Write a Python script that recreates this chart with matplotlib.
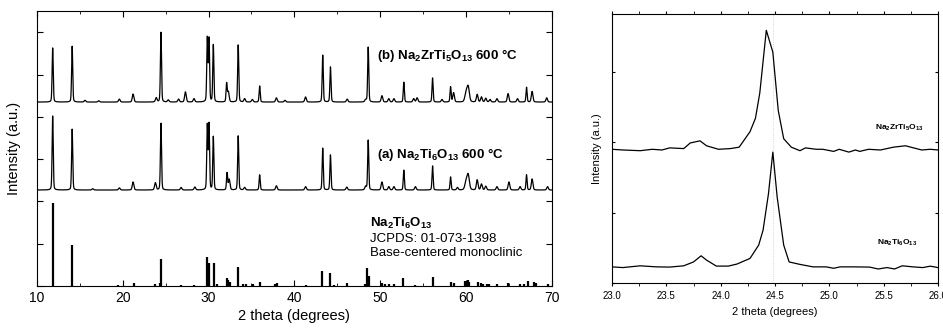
import numpy as np
import matplotlib
matplotlib.use("Agg")
import matplotlib.pyplot as plt
from matplotlib.ticker import MultipleLocator

plt.rcParams['font.family'] = ['Liberation Sans', 'DejaVu Sans']
plt.rcParams['mathtext.fontset'] = 'custom'
plt.rcParams['mathtext.rm'] = 'Liberation Sans'
plt.rcParams['mathtext.bf'] = 'Liberation Sans:bold'

# --- panel izquierdo: picos leidos (2theta, altura sobre la linea base) ---
base_b = 4.35
pos_b = [11.83, 14.1, 15.6, 17.2, 19.6, 21.2, 23.9, 24.45, 25.3, 26.5, 27.3, 28.3, 29.85, 30.05,
         30.55, 32.1, 32.3, 33.45, 34.2, 35.1, 35.95, 37.9, 38.9, 41.3, 43.3, 44.2, 46.15, 48.3,
         48.6, 50.2, 51.0, 51.6, 52.75, 53.9, 54.3, 56.1, 57.2, 58.2, 58.55, 60.0, 60.25, 61.3,
         61.8, 62.3, 62.8, 63.6, 64.9, 66.0, 67.05, 67.7, 69.4]
alt_b = [1.28, 1.32, 0.04, 0.03, 0.07, 0.19, 0.1, 1.65, 0.05, 0.07, 0.24, 0.08, 1.5, 1.48,
         1.35, 0.43, 0.24, 1.35, 0.08, 0.06, 0.38, 0.1, 0.04, 0.12, 1.11, 0.83, 0.07, 0.05,
         1.3, 0.15, 0.08, 0.08, 0.47, 0.08, 0.1, 0.57, 0.06, 0.36, 0.22, 0.2, 0.35, 0.18,
         0.12, 0.09, 0.06, 0.08, 0.2, 0.08, 0.35, 0.25, 0.1]

base_a = 2.27
pos_a = [11.83, 14.1, 16.5, 19.6, 21.2, 23.8, 24.45, 26.8, 28.4, 29.85, 30.05, 30.55, 32.15,
         32.4, 33.45, 34.2, 35.95, 37.9, 41.3, 43.3, 44.2, 46.1, 48.3, 48.6, 50.2, 51.0, 51.6,
         52.75, 54.1, 56.1, 58.2, 59.0, 60.0, 60.25, 61.3, 61.8, 62.3, 63.6, 65.0, 66.3, 67.05,
         67.7, 69.5]
alt_a = [1.75, 1.44, 0.03, 0.05, 0.19, 0.17, 1.58, 0.06, 0.07, 1.52, 1.54, 1.26, 0.4,
         0.25, 1.28, 0.06, 0.36, 0.1, 0.08, 0.99, 0.83, 0.07, 0.08, 1.18, 0.19, 0.08, 0.08,
         0.47, 0.08, 0.57, 0.31, 0.06, 0.18, 0.35, 0.24, 0.14, 0.09, 0.08, 0.19, 0.08, 0.36,
         0.26, 0.08]

# patron JCPDS 01-073-1398
pos_ref = [11.83, 14.1, 19.5, 21.3, 23.8, 24.3, 24.5, 26.8, 28.3, 29.85, 30.1, 30.6, 31.0,
           32.1, 32.3, 32.45, 33.45, 34.0, 34.4, 35.2, 35.95, 37.7, 38.0, 41.3, 43.25, 44.2,
           44.6, 46.1, 48.2, 48.45, 48.7, 50.2, 50.5, 51.0, 51.6, 52.7, 54.0, 56.1, 58.2, 58.6,
           59.9, 60.2, 60.4, 61.4, 61.7, 62.0, 62.4, 62.7, 63.6, 64.9, 66.3, 66.7, 67.2, 67.9,
           68.1, 69.6]
alt_ref = [1.96, 0.97, 0.02, 0.07, 0.04, 0.07, 0.64, 0.03, 0.03, 0.69, 0.54, 0.54, 0.05,
           0.19, 0.14, 0.1, 0.45, 0.05, 0.05, 0.04, 0.1, 0.04, 0.08, 0.03, 0.35, 0.31,
           0.03, 0.07, 0.05, 0.43, 0.24, 0.06, 0.05, 0.05, 0.05, 0.19, 0.03, 0.21, 0.1, 0.06,
           0.12, 0.14, 0.1, 0.1, 0.06, 0.05, 0.05, 0.04, 0.04, 0.06, 0.04, 0.05, 0.12, 0.09,
           0.07, 0.04]

# --- panel derecho: zoom sobre el pico de 24.5 ---
x_zr = [23.0, 23.1, 23.26, 23.37, 23.46, 23.53, 23.66, 23.72, 23.81, 23.87, 23.98, 24.09, 24.17,
        24.27, 24.32, 24.36, 24.42, 24.48, 24.53, 24.58, 24.65, 24.73, 24.78, 24.88, 24.94,
        25.04, 25.09, 25.18, 25.24, 25.28, 25.36, 25.47, 25.59, 25.7, 25.85, 25.93, 26.0]
y_zr = [1.90, 1.89, 1.88, 1.90, 1.89, 1.92, 1.91, 1.99, 2.02, 1.95, 1.90, 1.91, 1.93,
        2.15, 2.34, 2.70, 3.59, 3.28, 2.45, 2.05, 1.93, 1.88, 1.92, 1.90, 1.90,
        1.87, 1.90, 1.86, 1.89, 1.87, 1.90, 1.89, 1.93, 1.95, 1.89, 1.90, 1.89]

x_ti = [23.0, 23.1, 23.26, 23.41, 23.53, 23.66, 23.75, 23.82, 23.87, 23.96, 24.07, 24.15, 24.27,
        24.35, 24.39, 24.44, 24.48, 24.52, 24.58, 24.63, 24.73, 24.85, 24.97, 25.04, 25.1,
        25.22, 25.37, 25.45, 25.53, 25.6, 25.67, 25.77, 25.86, 25.93, 26.0]
y_ti = [0.23, 0.22, 0.245, 0.23, 0.227, 0.245, 0.30, 0.387, 0.326, 0.241, 0.241, 0.27, 0.35,
        0.54, 0.75, 1.27, 1.86, 1.22, 0.54, 0.30, 0.265, 0.23, 0.23, 0.21, 0.23,
        0.23, 0.227, 0.20, 0.22, 0.20, 0.245, 0.23, 0.22, 0.24, 0.22]


def perfil(tt, pos, alt, base):
    # pseudo-Voigt por pico sobre una linea base constante
    y = np.full_like(tt, base)
    for p, h in zip(pos, alt):
        w = 0.075 if h > 0.3 else 0.11
        if 59.8 < p < 60.5:
            w = 0.16
        g = np.exp(-np.log(2) * ((tt - p) / w) ** 2)
        l = 1 / (1 + ((tt - p) / w) ** 2)
        y += h * (0.75 * g + 0.25 * l)
    return y


tt = np.arange(10, 70.001, 0.01)

fig = plt.figure(figsize=(9.43, 3.28), dpi=100)
ax1 = fig.add_axes([0.0392, 0.128, 0.546, 0.838])
ax2 = fig.add_axes([0.649, 0.137, 0.3457, 0.820])

ax1.plot(tt, perfil(tt, pos_b, alt_b, base_b), color='black', lw=0.9)
ax1.plot(tt, perfil(tt, pos_a, alt_a, base_a), color='black', lw=0.9)
ax1.vlines(pos_ref, 0, alt_ref, color='black', lw=1.6)

ax1.set_xlim(10, 70)
ax1.set_ylim(0, 6.5)
ax1.xaxis.set_major_locator(MultipleLocator(10))
ax1.xaxis.set_minor_locator(MultipleLocator(5))
ax1.yaxis.set_major_locator(MultipleLocator(1))
ax1.set_yticklabels([])
ax1.tick_params(which='both', direction='in', top=True, right=True, labelsize=10)
ax1.tick_params(which='major', length=4)
ax1.tick_params(which='minor', length=2.5)
ax1.set_xlabel('2 theta (degrees)', fontsize=10.5, labelpad=3)
ax1.set_ylabel('Intensity (a.u.)', fontsize=10.5, labelpad=8)

ax1.text(49.6, 5.46, r'(b) Na$_\mathbf{2}$ZrTi$_\mathbf{5}$O$_\mathbf{13}$ 600 °C',
         fontsize=9.5, fontweight='bold', va='center')
ax1.text(49.6, 3.12, r'(a) Na$_\mathbf{2}$Ti$_\mathbf{6}$O$_\mathbf{13}$ 600 °C',
         fontsize=9.5, fontweight='bold', va='center')
ax1.text(48.8, 1.47, r'Na$_\mathbf{2}$Ti$_\mathbf{6}$O$_\mathbf{13}$',
         fontsize=9.5, fontweight='bold', va='center')
ax1.text(48.8, 1.11, 'JCPDS: 01-073-1398', fontsize=9.5, va='center')
ax1.text(48.8, 0.78, 'Base-centered monoclinic', fontsize=9.5, va='center')

ax2.axvline(24.48, color='#c8c8c8', lw=0.6, ls=':')
ax2.plot(x_zr, y_zr, color='black', lw=0.9)
ax2.plot(x_ti, y_ti, color='black', lw=0.9)
ax2.set_xlim(23.0, 26.0)
ax2.set_ylim(0, 3.82)
ax2.xaxis.set_major_locator(MultipleLocator(0.5))
ax2.xaxis.set_minor_locator(MultipleLocator(0.25))
ax2.xaxis.set_major_formatter(matplotlib.ticker.FormatStrFormatter('%.1f'))
ax2.yaxis.set_major_locator(MultipleLocator(1))
ax2.set_yticklabels([])
ax2.tick_params(which='both', direction='in', top=True, right=True, labelsize=7)
ax2.tick_params(axis='x', which='both', bottom=True, direction='out')
ax2.tick_params(which='major', length=2.5)
ax2.tick_params(which='minor', length=2)
ax2.set_xlabel('2 theta (degrees)', fontsize=8, labelpad=4)
ax2.set_ylabel('Intensity (a.u.)', fontsize=8, labelpad=4)

ax2.text(25.42, 2.21, r'Na$_\mathbf{2}$ZrTi$_\mathbf{5}$O$_\mathbf{13}$',
         fontsize=6, fontweight='bold', va='center')
ax2.text(25.44, 0.57, r'Na$_\mathbf{2}$Ti$_\mathbf{6}$O$_\mathbf{13}$',
         fontsize=6, fontweight='bold', va='center')

fig.savefig('out.png', dpi=100)
